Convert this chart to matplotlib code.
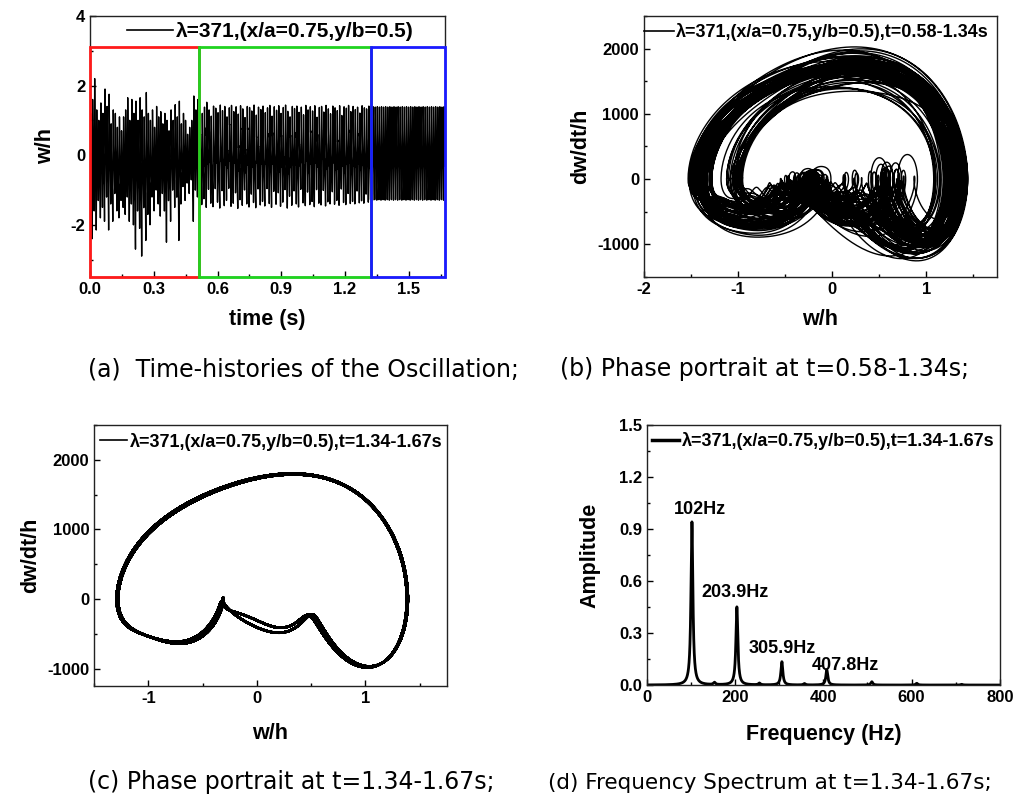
import numpy as np
import matplotlib
matplotlib.use("Agg")
import matplotlib.pyplot as plt
from matplotlib.patches import Rectangle
from matplotlib.ticker import MultipleLocator, FormatStrFormatter

plt.rcParams["font.family"] = ["Liberation Sans", "DejaVu Sans"]
plt.rcParams["font.weight"] = "bold"
plt.rcParams["axes.linewidth"] = 1.0
plt.rcParams["axes.unicode_minus"] = False

LABEL = "λ=371,(x/a=0.75,y/b=0.5)"

# stage boundaries (s): transient | chaotic | periodic
STAGE_EDGES = [0.0, 0.515, 1.32, 1.67]
STAGE_COLORS = ["#ff1a1a", "#1fd31f", "#1a1aff"]

# spectrum peaks (t=1.34-1.67 s)
HARM_FREQ = [102.0, 203.9, 305.9, 407.8, 509.8, 611.7, 713.6]
HARM_PEAK = [0.94, 0.45, 0.134, 0.087, 0.019, 0.010, 0.004]
PEAK_LABELS = ["102Hz", "203.9Hz", "305.9Hz", "407.8Hz"]
# weak components at odd multiples of F0/2
SUB_FREQ = [153.0, 255.0, 357.0]
SUB_AMP = [0.013, 0.010, 0.008]
SUB_PHASE = [0.628, 3.142, -0.628]

# steady cycle of w/h: harmonics k*F0, amplitude and phase, mean deflection
F0 = 102.0
WAVE_AMP = [0.877, 0.536, 0.216, 0.087, 0.047, 0.020, 0.010]
WAVE_PHASE = [0.0, 1.350, 2.987, -2.720, -2.017, -2.145, -1.035]
WAVE_MEAN = -0.089

# transient stage: per-cycle maxima / minima of w/h
TRANS_HI = [1.2, 1.6, 2.2, 1.3, 1.0, 1.5, 1.2, 1.9, 1.4, 1.75,
            0.9, 1.3, 1.2, 0.8, 1.1, 0.7, 1.1, 1.3, 1.65, 1.0,
            1.6, 1.2, 1.55, 1.0, 1.65, 1.3, 1.1, 1.8, 1.2, 1.0,
            1.3, 0.8, 1.4, 1.1, 1.25, 0.9, 1.2, 1.0, 0.7, 1.3,
            1.0, 1.45, 1.1, 1.55, 0.9, 1.2, 1.0, 0.6, 0.8, 1.0,
            1.7, 1.3, 1.6]
TRANS_LO = [-1.0, -2.4, -1.6, -2.15, -1.3, -1.8, -1.5, -1.9, -1.2, -2.15,
            -1.4, -1.9, -1.1, -1.6, -1.8, -1.3, -1.5, -1.7, -1.2, -1.9,
            -1.4, -2.0, -2.7, -1.6, -2.1, -2.9, -1.5, -2.45, -1.7, -2.0,
            -1.2, -1.6, -1.0, -1.4, -1.75, -1.1, -1.6, -2.5, -1.3, -1.9,
            -1.0, -1.5, -1.2, -2.45, -1.4, -0.9, -1.3, -0.8, -1.1, -0.7,
            -1.9, -1.0, -1.2]

# chaotic stage: per-cycle maxima / minima, ripple strength and shift
CHAOS_HI = [1.45, 1.20, 1.38, 1.52, 1.30, 1.12, 1.41, 1.35, 1.22, 1.44,
            1.28, 1.40, 1.10, 1.36, 1.43, 1.25, 1.39, 1.18, 1.42, 1.33,
            1.08, 1.40, 1.37, 1.27, 1.44, 1.15, 1.38, 1.31, 1.41, 1.22,
            1.36, 1.43, 1.12, 1.39, 1.29, 1.42, 1.20, 1.37, 1.44, 1.26,
            1.10, 1.40, 1.34, 1.41, 1.23, 1.38, 1.16, 1.43, 1.30, 1.39,
            1.27, 1.42, 1.09, 1.37, 1.40, 1.24, 1.43, 1.33, 1.19, 1.41,
            1.36, 1.28, 1.42, 1.14, 1.39, 1.35, 1.43, 1.25, 1.40, 1.31,
            1.38, 1.21, 1.42, 1.36, 1.33, 1.41]
CHAOS_LO = [-1.05, -1.42, -1.25, -1.50, -0.98, -1.38, -1.48, -0.96, -1.35, -1.52,
            -1.02, -1.45, -1.30, -0.95, -1.47, -1.38, -1.08, -1.53, -1.28, -1.44,
            -1.00, -1.40, -1.49, -1.12, -1.36, -1.51, -0.97, -1.43, -1.33, -1.46,
            -0.96, -1.39, -1.50, -1.04, -1.41, -1.08, -1.47, -1.35, -0.99, -1.52,
            -1.18, -1.44, -1.02, -1.40, -1.49, -0.98, -1.37, -1.45, -1.06, -1.42,
            -1.33, -1.48, -0.99, -1.38, -1.43, -1.01, -1.46, -1.34, -1.40, -1.05,
            -1.41, -1.30, -1.44, -0.97, -1.36, -1.42, -1.10, -1.39, -1.33, -1.40,
            -1.03, -1.37, -1.31, -1.38, -1.12, -1.35]
CHAOS_RIPPLE = [1.4, 1.0, 1.7, 1.2, 1.0, 1.5, 1.1, 1.6, 1.3, 1.0,
                1.4, 1.2, 1.7, 1.0, 1.5, 1.3, 1.0, 1.6, 1.1, 1.4,
                1.8, 1.2, 1.0, 1.5, 1.3, 1.1, 1.7, 1.0, 1.4, 1.2,
                1.6, 1.0, 1.3, 1.5, 1.1, 1.8, 1.2, 1.4, 1.0, 1.6,
                1.3, 1.1, 1.7, 1.0, 1.4, 1.2, 1.5, 1.0, 1.6, 1.3,
                1.1, 1.4, 1.8, 1.2, 1.0, 1.5, 1.3, 1.1, 1.4, 1.7,
                1.2, 1.5, 1.0, 1.6, 1.3, 1.1, 1.4, 1.2, 1.0, 1.3,
                1.5, 1.1, 1.2, 1.0, 1.3, 1.1]
CHAOS_SHIFT = [0.3, -0.5, 0.7, -0.2, 0.5, -0.7, 0.1, 0.6, -0.4, 0.2,
               -0.6, 0.4, -0.1, 0.8, -0.3, 0.5, -0.8, 0.2, 0.6, -0.5,
               0.0, 0.7, -0.4, 0.3, -0.7, 0.5, -0.2, 0.6, -0.6, 0.1,
               0.4, -0.3, 0.8, -0.5, 0.2, -0.1, 0.6, -0.7, 0.3, -0.4,
               0.7, -0.2, 0.5, -0.6, 0.1, 0.4, -0.8, 0.3, -0.3, 0.6,
               -0.5, 0.2, 0.7, -0.1, 0.5, -0.6, 0.0, 0.4, -0.4, 0.8,
               -0.2, 0.3, -0.7, 0.6, -0.3, 0.1, 0.5, -0.5, 0.2, -0.2,
               0.4, -0.1, 0.3, -0.3, 0.2, -0.2]

# ---------------------------------------------------------------
# build w/h(t)
# ---------------------------------------------------------------
M = 400
theta = np.arange(M) / M * 2 * np.pi


def cycle_wave(ripple=1.0, shift=0.0):
    w = np.zeros(M)
    for k, (a, ph) in enumerate(zip(WAVE_AMP, WAVE_PHASE), start=1):
        if k in (3, 4):
            w += a * ripple * np.cos(k * theta + ph + shift)
        else:
            w += a * np.cos(k * theta + ph)
    return w


theta_min = theta[np.argmin(cycle_wave())]


def unit_cycle(ripple, shift):
    # one cycle scaled to 0..1, starting at its minimum
    w = cycle_wave(ripple, shift)
    w = np.roll(w, -np.argmin(w))
    return (w - w.min()) / (w.max() - w.min())


# periodic stage
t_b = STAGE_EDGES[2]
dt_late = 1.0 / F0 / M
t_late = np.arange(t_b, STAGE_EDGES[3] + dt_late, dt_late)
w_late = np.full_like(t_late, WAVE_MEAN)
for k, (a, ph) in enumerate(zip(WAVE_AMP, WAVE_PHASE), start=1):
    w_late += a * np.cos(2 * np.pi * k * F0 * (t_late - t_b) + k * theta_min + ph)
for f, a, ph in zip(SUB_FREQ, SUB_AMP, SUB_PHASE):
    w_late += a * np.cos(2 * np.pi * f * (t_late - t_b) + ph)

# transient + chaotic stages, cycle by cycle
hi = np.r_[TRANS_HI, CHAOS_HI]
lo = np.r_[TRANS_LO, CHAOS_LO, w_late[0]]
rip = np.r_[np.ones(len(TRANS_HI)), CHAOS_RIPPLE]
shf = np.r_[np.zeros(len(TRANS_HI)), CHAOS_SHIFT]
period = np.r_[np.full(len(TRANS_HI), (STAGE_EDGES[1] - STAGE_EDGES[0]) / len(TRANS_HI)),
               np.full(len(CHAOS_HI), (STAGE_EDGES[2] - STAGE_EDGES[1]) / len(CHAOS_HI))]
frac = np.arange(M) / M
w_parts, t_parts = [], []
t0 = STAGE_EDGES[0]
for c in range(len(hi)):
    u = unit_cycle(rip[c], shf[c])
    floor = lo[c] + (lo[c + 1] - lo[c]) * frac
    w_parts.append(floor + (hi[c] - floor) * u)
    t_parts.append(t0 + period[c] * frac)
    t0 += period[c]

t = np.r_[np.concatenate(t_parts), t_late]
wh = np.r_[np.concatenate(w_parts), w_late]
vh = np.gradient(wh, t)

# spectrum curve
freq = np.linspace(0, 800, 6401)
gam = 2.6
amp = np.zeros_like(freq)
for f0, a in zip(HARM_FREQ + SUB_FREQ, HARM_PEAK + SUB_AMP):
    amp += a * gam ** 2 / ((freq - f0) ** 2 + gam ** 2)

# ---------------------------------------------------------------
# figure
# ---------------------------------------------------------------
fig = plt.figure(figsize=(10.14, 7.96), dpi=100)
ax_a = fig.add_axes([0.0888, 0.652, 0.350, 0.328])
ax_b = fig.add_axes([0.635, 0.652, 0.348, 0.328])
ax_c = fig.add_axes([0.0927, 0.138, 0.348, 0.328])
ax_d = fig.add_axes([0.638, 0.1394, 0.348, 0.327])


def style(ax):
    ax.tick_params(which="both", direction="in", top=False, right=False, labelsize=12)
    ax.tick_params(which="major", length=4, width=1)
    ax.tick_params(which="minor", length=2.5, width=1)
    for s in ax.spines.values():
        s.set_color("#222222")


def legend(ax, x, y, size, hl, lw):
    lg = ax.legend(loc="center left", bbox_to_anchor=(x, y), frameon=False,
                   borderpad=0, borderaxespad=0, handlelength=hl,
                   handletextpad=0.15, prop=dict(size=size, weight="bold"))
    for h in lg.legend_handles:
        h.set_linewidth(lw)


axfont = dict(fontsize=15.5, fontweight="bold")

# (a) time history
ax_a.plot(t, wh, color="k", lw=1.0, label=LABEL)
ax_a.set_xlim(0, 1.67)
ax_a.set_ylim(-3.5, 4)
ax_a.xaxis.set_major_locator(MultipleLocator(0.3))
ax_a.xaxis.set_minor_locator(MultipleLocator(0.15))
ax_a.xaxis.set_major_formatter(FormatStrFormatter("%.1f"))
ax_a.yaxis.set_major_locator(MultipleLocator(2))
ax_a.yaxis.set_minor_locator(MultipleLocator(1))
ax_a.set_xlabel("time (s)", labelpad=9, **axfont)
ax_a.set_ylabel("w/h", labelpad=10, **axfont)
style(ax_a)
for x0, x1, col in zip(STAGE_EDGES[:-1], STAGE_EDGES[1:], STAGE_COLORS):
    ax_a.add_patch(Rectangle((x0, -3.5), x1 - x0, 6.6, fill=False, ec=col, lw=2,
                             clip_on=False, zorder=5))
legend(ax_a, 0.104, 0.939, 15, 2.2, 1.2)

# (b) phase portrait, chaotic stage
sel = (t >= 0.58) & (t <= 1.34)
ax_b.plot(wh[sel], vh[sel], color="k", lw=1.0, label=LABEL + ",t=0.58-1.34s")
ax_b.set_xlim(-2, 1.75)
ax_b.set_ylim(-1500, 2500)
ax_b.xaxis.set_major_locator(MultipleLocator(1))
ax_b.xaxis.set_minor_locator(MultipleLocator(0.5))
ax_b.yaxis.set_major_locator(MultipleLocator(1000))
ax_b.yaxis.set_minor_locator(MultipleLocator(500))
ax_b.set_xlabel("w/h", labelpad=9, **axfont)
ax_b.set_ylabel("dw/dt/h", labelpad=4, **axfont)
style(ax_b)
legend(ax_b, 0.0, 0.939, 13, 1.65, 1.2)

# (c) phase portrait, periodic stage
sel = (t >= 1.34) & (t <= 1.67)
ax_c.plot(wh[sel], vh[sel], color="k", lw=1.8, label=LABEL + ",t=1.34-1.67s")
ax_c.set_xlim(-1.5, 1.75)
ax_c.set_ylim(-1250, 2500)
ax_c.xaxis.set_major_locator(MultipleLocator(1))
ax_c.xaxis.set_minor_locator(MultipleLocator(0.5))
ax_c.yaxis.set_major_locator(MultipleLocator(1000))
ax_c.yaxis.set_minor_locator(MultipleLocator(500))
ax_c.set_xlabel("w/h", labelpad=12, **axfont)
ax_c.set_ylabel("dw/dt/h", labelpad=4, **axfont)
style(ax_c)
legend(ax_c, 0.017, 0.936, 13, 1.5, 1.2)

# (d) frequency spectrum
ax_d.plot(freq, amp, color="k", lw=2.0, label=LABEL + ",t=1.34-1.67s")
ax_d.set_xlim(0, 800)
ax_d.set_ylim(0, 1.5)
ax_d.xaxis.set_major_locator(MultipleLocator(200))
ax_d.xaxis.set_minor_locator(MultipleLocator(100))
ax_d.yaxis.set_major_locator(MultipleLocator(0.3))
ax_d.yaxis.set_minor_locator(MultipleLocator(0.15))
ax_d.yaxis.set_major_formatter(FormatStrFormatter("%.1f"))
ax_d.set_xlabel("Frequency (Hz)", labelpad=14, **axfont)
ax_d.set_ylabel("Amplitude", labelpad=13, **axfont)
style(ax_d)
legend(ax_d, 0.014, 0.936, 13, 1.5, 2.5)
offsets = [(18, 0.07), (-5, 0.085), (2, 0.075), (43, 0.023)]
for f0, a, s, (dx, dy) in zip(HARM_FREQ, HARM_PEAK, PEAK_LABELS, offsets):
    ax_d.text(f0 + dx, a + dy, s, ha="center", va="center", fontsize=13, fontweight="bold")

# sub-figure captions
cap = dict(fontsize=17, fontweight="normal", family="DejaVu Sans", va="baseline")
fig.text(88 / 1014, 1 - 376 / 796, "(a)  Time-histories of the Oscillation;", **cap)
fig.text(560 / 1014, 1 - 376 / 796, "(b) Phase portrait at t=0.58-1.34s;", **cap)
fig.text(88 / 1014, 1 - 789 / 796, "(c) Phase portrait at t=1.34-1.67s;", **cap)
fig.text(548 / 1014, 1 - 789 / 796, "(d) Frequency Spectrum at t=1.34-1.67s;",
         fontsize=15.5, fontweight="normal", family="DejaVu Sans", va="baseline")

fig.savefig("out.png", dpi=100)
